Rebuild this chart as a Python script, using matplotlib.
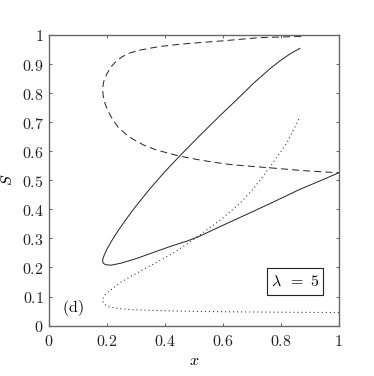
import matplotlib
matplotlib.use("Agg")
import matplotlib.pyplot as plt
from matplotlib.patches import Rectangle

# ---- data ----
solid_x = [0.866, 0.835, 0.800, 0.770, 0.740, 0.705, 0.650, 0.590, 0.520, 0.452,
           0.400, 0.350, 0.300, 0.270, 0.239, 0.215, 0.200, 0.191, 0.186, 0.187,
           0.192, 0.200, 0.216, 0.250, 0.300, 0.342, 0.418, 0.480, 0.521, 0.600,
           0.694, 0.780, 0.866, 0.940, 1.000]
solid_s = [0.954, 0.937, 0.913, 0.890, 0.864, 0.833, 0.779, 0.722, 0.653, 0.584,
           0.529, 0.472, 0.410, 0.370, 0.326, 0.288, 0.261, 0.241, 0.226, 0.217,
           0.212, 0.209, 0.208, 0.215, 0.230, 0.245, 0.272, 0.292, 0.308, 0.345,
           0.388, 0.428, 0.469, 0.500, 0.526]

dashed_x = [0.870, 0.800, 0.728, 0.660, 0.590, 0.522, 0.452, 0.380, 0.315, 0.280,
            0.255, 0.235, 0.215, 0.200, 0.190, 0.186, 0.188, 0.194, 0.205, 0.220,
            0.240, 0.265, 0.291, 0.330, 0.372, 0.452, 0.520, 0.590, 0.636, 0.762,
            0.880, 1.000]
dashed_s = [0.995, 0.993, 0.991, 0.985, 0.979, 0.974, 0.968, 0.960, 0.948, 0.938,
            0.926, 0.912, 0.890, 0.865, 0.840, 0.815, 0.790, 0.765, 0.738, 0.710,
            0.682, 0.660, 0.641, 0.620, 0.604, 0.583, 0.570, 0.559, 0.553, 0.543,
            0.533, 0.526]

dotted_x = [0.862, 0.820, 0.762, 0.705, 0.659, 0.600, 0.560, 0.521, 0.480, 0.430,
            0.377, 0.330, 0.285, 0.250, 0.216, 0.200, 0.190, 0.186, 0.190, 0.204,
            0.230, 0.285, 0.372, 0.500, 0.584, 0.800, 1.000]
dotted_s = [0.710, 0.627, 0.545, 0.470, 0.421, 0.370, 0.340, 0.312, 0.283, 0.250,
            0.220, 0.195, 0.170, 0.150, 0.124, 0.112, 0.100, 0.085, 0.075, 0.066,
            0.060, 0.055, 0.052, 0.049, 0.048, 0.046, 0.045]

xticks = [0, 0.2, 0.4, 0.6, 0.8, 1]
xtick_labels = ["0", "0.2", "0.4", "0.6", "0.8", "1"]
yticks = [0, 0.1, 0.2, 0.3, 0.4, 0.5, 0.6, 0.7, 0.8, 0.9, 1]
ytick_labels = ["0", "0.1", "0.2", "0.3", "0.4", "0.5", "0.6", "0.7", "0.8", "0.9", "1"]
legend_text = r"$\lambda\;\;=\;5$"
panel_label = r"$\mathrm{(d)}$"

# ---- style ----
plt.rcParams["mathtext.fontset"] = "cm"
plt.rcParams["font.family"] = ["DejaVu Serif"]
plt.rcParams["lines.scale_dashes"] = False

fig = plt.figure(figsize=(3.74, 3.76), dpi=100)
ax = fig.add_axes([0.130, 0.134, 0.776, 0.773])

lc = "#222222"
ax.plot(solid_x, solid_s, color=lc, lw=0.7, solid_joinstyle="round")
ax.plot(dashed_x, dashed_s, color=lc, lw=0.7, dashes=(5, 3))
ax.plot(dotted_x, dotted_s, color=lc, lw=0.8, dashes=(0.7, 2.2))

ax.set_xlim(0, 1)
ax.set_ylim(0, 1)
ax.set_xticks(xticks)
ax.set_xticklabels(["$%s$" % t for t in xtick_labels])
ax.set_yticks(yticks)
ax.set_yticklabels(["$%s$" % t for t in ytick_labels])
ax.tick_params(direction="in", length=2.5, width=0.5, top=True, right=True,
               labelsize=11.5, colors="#222222")
ax.tick_params(axis="y", pad=3.5)
ax.tick_params(axis="x", pad=5)
for sp in ax.spines.values():
    sp.set_linewidth(1.0)
    sp.set_color("#666666")

ax.set_xlabel("$x$", fontsize=11.5, labelpad=2)
ax.set_ylabel("$S$", fontsize=11.5, labelpad=4)

ax.text(0.083, 0.06, panel_label, transform=ax.transAxes, fontsize=11.5,
        ha="center", va="center")

ax.add_patch(Rectangle((0.751, 0.106), 0.193, 0.091, transform=ax.transAxes,
                       fill=True, facecolor="white", edgecolor="#222222", lw=0.8))
ax.text(0.848, 0.152, legend_text, transform=ax.transAxes, fontsize=11.5,
        ha="center", va="center")

fig.savefig("out.png", dpi=100)
